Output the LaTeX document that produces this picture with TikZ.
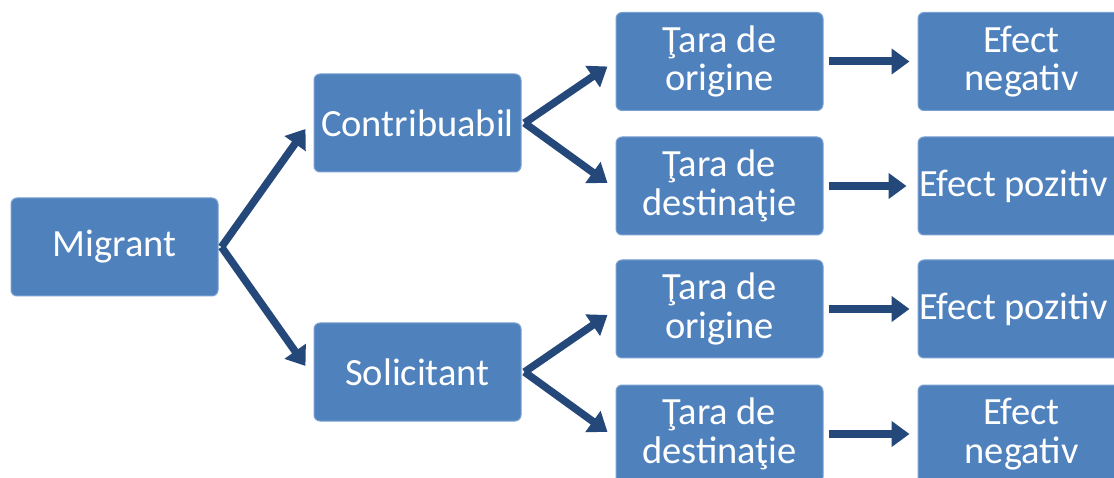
\documentclass[tikz,border=0pt]{standalone}
\usepackage{fontspec}
\setmainfont{Carlito}
\usetikzlibrary{arrows.meta}
\definecolor{boxblue}{RGB}{79,129,189}
\definecolor{boxedge}{RGB}{120,160,210}
\definecolor{arrowblue}{RGB}{36,72,122}
\begin{document}
\begin{tikzpicture}[x=1pt,y=-1pt,
  box/.style={fill=boxblue, draw=boxedge, line width=1pt, rounded corners=6pt,
    minimum width=207pt, minimum height=98pt, text=white, inner sep=0pt,
    font=\fontsize{38.5}{38.5}\selectfont, align=center},
  darr/.style={draw=arrowblue, line width=7.5pt, -{Triangle[length=18pt,width=25pt]}},
  harr/.style={draw=arrowblue, line width=8pt, -{Triangle[length=18pt,width=25pt]}}]
\useasboundingbox (0,0) rectangle (1114,478);
\fill[white] (0,0) rectangle (1114,478);
\clip (0,0) rectangle (1114,478);
% first two columns
\node[box] (mig) at (114.5,247) {Migrant};
\node[box] (con) at (417.5,123) {Contribuabil};
\node[box] (sol) at (417.5,372) {Solicitant};
% third column
\node[box] (o1) at (719.5,61.5) {Ţara de\\origine};
\node[box] (d1) at (719.5,186) {Ţara de\\destinaţie};
\node[box] (o2) at (719.5,309) {Ţara de\\origine};
\node[box] (d2) at (719.5,434) {Ţara de\\destinaţie};
% fourth column
\node[box] (e1) at (1021.5,61.5) {Efect\\negativ};
\node[box] (e2) at (1021.5,186) {Efect pozitiv\hspace*{16pt}};
\node[box] (e3) at (1021.5,309) {Efect pozitiv\hspace*{16pt}};
\node[box] (e4) at (1021.5,434) {Efect\\negativ};
% connectors
\draw[darr] ([xshift=3pt]mig.east) -- ([xshift=-8pt,yshift=-6pt]con.west);
\draw[darr] ([xshift=3pt]mig.east) -- ([xshift=-8pt,yshift=6pt]sol.west);
\draw[darr] ([xshift=3pt]con.east) -- ([xshift=-8pt,yshift=-5pt]o1.west);
\draw[darr] ([xshift=3pt]con.east) -- ([xshift=-8pt,yshift=3pt]d1.west);
\draw[darr] ([xshift=3pt]sol.east) -- ([xshift=-8pt,yshift=-6pt]o2.west);
\draw[darr] ([xshift=3pt]sol.east) -- ([xshift=-8pt,yshift=2pt]d2.west);
\draw[harr] ([xshift=5pt]o1.east) -- ([xshift=-8pt]e1.west);
\draw[harr] ([xshift=5pt]d1.east) -- ([xshift=-11pt]e2.west);
\draw[harr] ([xshift=5pt]o2.east) -- ([xshift=-8pt]e3.west);
\draw[harr] ([xshift=5pt]d2.east) -- ([xshift=-8pt]e4.west);
\end{tikzpicture}
\end{document}
